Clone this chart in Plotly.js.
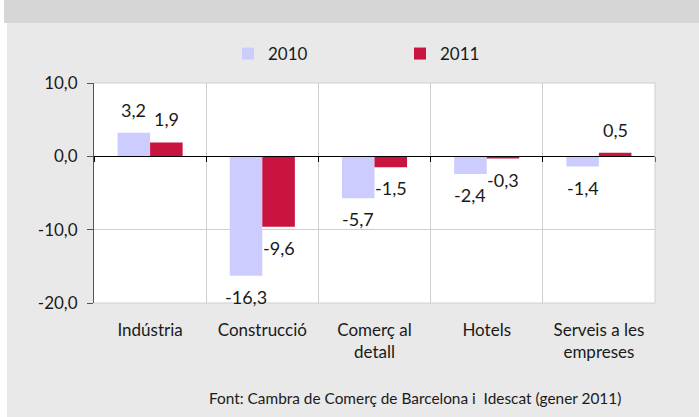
<!DOCTYPE html>
<html>
<head>
<meta charset="utf-8">
<script src="https://cdn.plot.ly/plotly-3.0.1.min.js"></script>
<style>html,body{margin:0;padding:0;background:#fff;}#chart{width:699px;height:417px;}</style>
</head>
<body>
<div id="chart"></div>
<script>
const categories = ['Indústria', 'Construcció', 'Comerç al<br>detall', 'Hotels', 'Serveis a les<br>empreses'];
const seriesNames = ['2010', '2011'];
const values2010 = [3.2, -16.3, -5.7, -2.4, -1.4];
const values2011 = [1.9, -9.6, -1.5, -0.3, 0.5];
const yTickVals = [-20, -10, 0, 10];
const yTickText = ['-20,0', '-10,0', '0,0', '10,0'];
const sourceText = 'Font: Cambra de Comerç de Barcelona i\u00a0 Idescat (gener 2011)';

const colors = ['#ccccff', '#c8143f'];
const FONT = 'Lato, "Open Sans", sans-serif';
const TXT = '#1a1a1a';

// plot-area geometry in px (for converting background panels to paper coords)
const W = 699, H = 417, L = 94, R = 44, T = 83, B = 114;
const pw = W - L - R, ph = H - T - B;
const xp = px => (px - L) / pw;
const yp = py => (H - B - py) / ph;

const fmt = v => v.toFixed(1).replace('.', ',');

const series = [values2010, values2011];
const traces = series.map((vals, i) => ({
  type: 'bar',
  name: seriesNames[i],
  x: categories,
  y: vals,
  marker: {color: colors[i], line: {width: 0}},
  hoverinfo: 'skip'
}));
// helper trace so the zero-line axis (x2) is drawn
traces.push({
  type: 'scatter', mode: 'markers', x: categories, y: categories.map(() => null),
  xaxis: 'x2', yaxis: 'y', showlegend: false, hoverinfo: 'skip'
});

const annotations = [];
series.forEach((vals, i) => {
  vals.forEach((v, j) => {
    annotations.push({
      x: categories[j], y: v, xref: 'x', yref: 'y',
      text: fmt(v), showarrow: false,
      xanchor: 'center', yanchor: 'middle',
      xshift: (i === 0 ? -1 : 1) * 16.25,
      yshift: v >= 0 ? 23 : -21,
      font: {family: FONT, size: 18, color: TXT}
    });
  });
});
annotations.push({
  xref: 'paper', yref: 'paper', x: xp(415), y: yp(398),
  xanchor: 'center', yanchor: 'middle', showarrow: false,
  text: sourceText, font: {family: FONT, size: 15.4, color: TXT}
});

const shapes = [
  // top darker band
  {type: 'rect', xref: 'paper', yref: 'paper', x0: xp(4), x1: xp(W + 2), y0: yp(23), y1: yp(-2),
   fillcolor: '#d6d6d6', line: {width: 0}, layer: 'below'},
  // white left strips
  {type: 'rect', xref: 'paper', yref: 'paper', x0: xp(-2), x1: xp(4), y0: yp(H + 2), y1: yp(-2),
   fillcolor: '#ffffff', line: {width: 0}, layer: 'below'},
  {type: 'rect', xref: 'paper', yref: 'paper', x0: xp(4), x1: xp(7), y0: yp(H + 2), y1: yp(23),
   fillcolor: '#ffffff', line: {width: 0}, layer: 'below'},
  // plot border (top, right, bottom)
  {type: 'path', xref: 'paper', yref: 'paper', path: 'M0,1 L1,1 L1,0 L0,0',
   line: {color: '#cfcfcf', width: 1}, layer: 'above'}
];

const layout = {
  width: W, height: H,
  margin: {l: L, r: R, t: T, b: B, pad: 0},
  paper_bgcolor: '#e9e9e9',
  plot_bgcolor: '#ffffff',
  barmode: 'group', bargap: 0.42, bargroupgap: 0,
  font: {family: FONT, color: TXT},
  showlegend: true,
  legend: {
    orientation: 'h', x: xp(228), xanchor: 'left', y: yp(54), yanchor: 'middle',
    bgcolor: 'rgba(0,0,0,0)', font: {family: FONT, size: 17, color: TXT},
    entrywidth: 127, entrywidthmode: 'pixels', traceorder: 'normal'
  },
  xaxis: {
    type: 'category', categoryorder: 'array', categoryarray: categories,
    range: [-0.5, categories.length - 0.5],
    tickson: 'boundaries', showgrid: true, gridcolor: '#cfcfcf', gridwidth: 1,
    ticks: '', showline: false, zeroline: false,
    tickfont: {family: FONT, size: 17, color: TXT},
    ticklabelstandoff: 15, fixedrange: true
  },
  xaxis2: {
    type: 'category', categoryorder: 'array', categoryarray: categories,
    range: [-0.5, categories.length - 0.5],
    overlaying: 'x', anchor: 'free', position: (0 - (-20)) / (10 - (-20)),
    tickson: 'boundaries', ticks: 'outside', ticklen: 5, tickcolor: '#000', tickwidth: 1,
    showticklabels: false, showline: true, linecolor: '#000', linewidth: 1,
    showgrid: false, zeroline: false, fixedrange: true
  },
  yaxis: {
    range: [-20, 10], tickvals: yTickVals, ticktext: yTickText,
    showgrid: true, gridcolor: '#cfcfcf', gridwidth: 1,
    zeroline: false,
    showline: true, linecolor: '#555', linewidth: 1,
    ticks: 'outside', ticklen: 6, tickcolor: '#555', tickwidth: 1,
    tickfont: {family: FONT, size: 17, color: TXT},
    ticklabelstandoff: 6, fixedrange: true
  },
  annotations: annotations,
  shapes: shapes
};

Plotly.newPlot('chart', traces, layout, {displayModeBar: false, staticPlot: true});
</script>
</body>
</html>
